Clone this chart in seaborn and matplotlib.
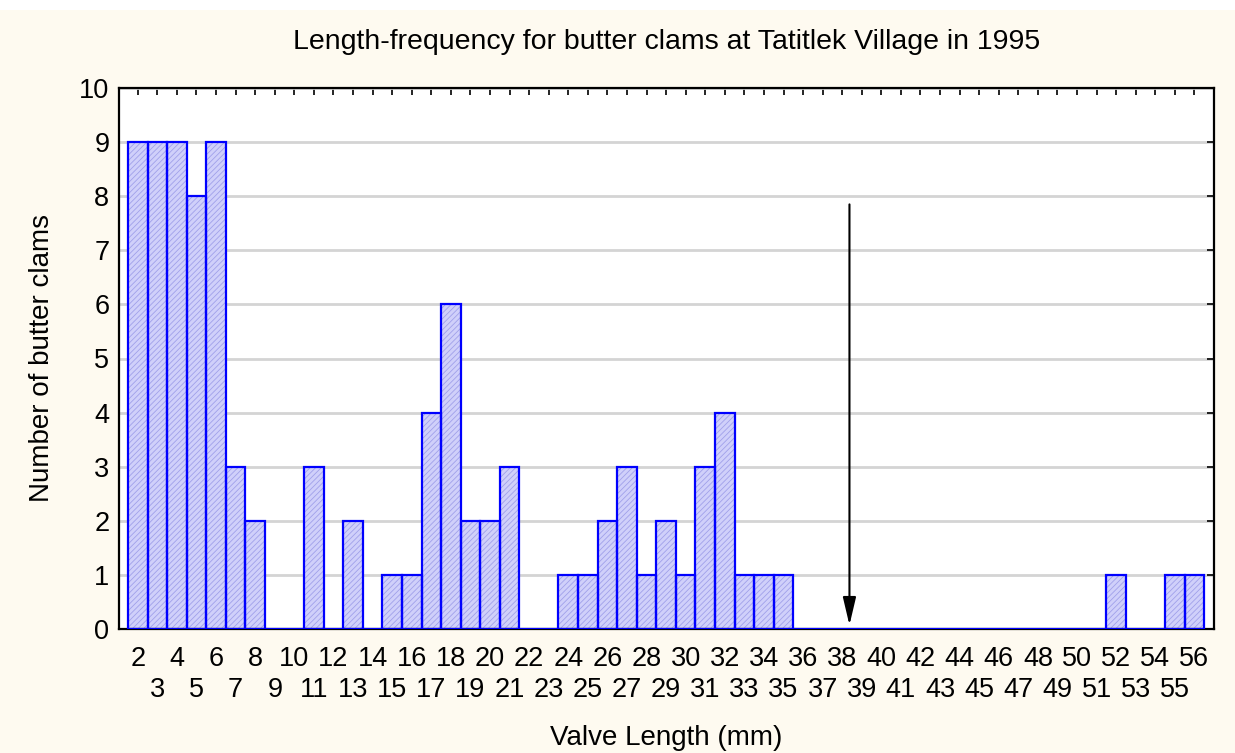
import numpy as np
import pandas as pd
import seaborn as sns
import matplotlib.pyplot as plt
from matplotlib.patches import Rectangle

# Dados
comprimentos = list(range(2, 57))
contagens = [9, 9, 9, 8, 9, 3, 2, 0, 0, 3,
             0, 2, 0, 1, 1, 4, 6, 2, 2, 3,
             0, 0, 1, 1, 2, 3, 1, 2, 1, 3,
             4, 1, 1, 1, 0, 0, 0, 0, 0, 0,
             0, 0, 0, 0, 0, 0, 0, 0, 0, 0,
             1, 0, 0, 1, 1]
seta_x = 38.37
seta_topo = 7.9

df = pd.DataFrame({"comprimento": comprimentos, "contagem": contagens})

sns.set_style("white")
plt.rcParams['font.family'] = ['Liberation Sans', 'DejaVu Sans']
plt.rcParams['hatch.linewidth'] = 0.6
plt.rcParams['text.color'] = 'black'
plt.rcParams['axes.labelcolor'] = 'black'

fig = plt.figure(figsize=(12.35, 7.53), dpi=100, facecolor='#fefaf0')
fig.patches.append(Rectangle((0, 1 - 10 / 753), 1, 10 / 753, transform=fig.transFigure,
                             facecolor='white', edgecolor='none', zorder=0))
ax = fig.add_axes([119 / 1235, 1 - 629 / 753, (1214 - 119) / 1235, (629 - 88) / 753])
ax.set_facecolor('white')

# preenchimento hachurado
sns.barplot(data=df, x="comprimento", y="contagem", native_scale=True, width=1,
            color='#d0d0fa', saturation=1, edgecolor='#a0a0ea', linewidth=0,
            errorbar=None, ax=ax, zorder=2)
for p in ax.patches:
    p.set_hatch('//////')
# contorno azul
sns.barplot(data=df, x="comprimento", y="contagem", native_scale=True, width=1,
            color='#0000ff', saturation=1, fill=False, linewidth=1.6,
            errorbar=None, ax=ax, zorder=3)

ax.set_xlim(1.04, 57.0)
ax.set_ylim(0, 10)
ax.set_yticks(range(0, 11))

# pares na primeira linha, ímpares na segunda
pares = [c for c in comprimentos if c % 2 == 0]
impares = [c for c in comprimentos if c % 2 == 1]
ax.set_xticks(pares)
ax.set_xticklabels([str(c) for c in pares])
ax.set_xticks(impares, minor=True)
ax.set_xticklabels([str(c) for c in impares], minor=True)

ax.tick_params(axis='both', which='both', direction='in', length=5, width=1.2,
               labelsize=19.5, top=True, right=True, colors='black')
ax.tick_params(axis='x', which='major', pad=12)
ax.tick_params(axis='x', which='minor', pad=34.5)
ax.tick_params(axis='y', pad=7)
ax.grid(axis='y', which='major', color='#d4d4d4', linewidth=2, zorder=1)
ax.set_axisbelow(True)
for s in ax.spines.values():
    s.set_color('black')
    s.set_linewidth(1.6)

ax.annotate("", xy=(seta_x, 0.02), xytext=(seta_x, seta_topo),
            arrowprops=dict(arrowstyle='-|>,head_length=1.7,head_width=0.4',
                            color='black', lw=1.5), zorder=5)

ax.set_xlabel("Valve Length (mm)", fontsize=20, labelpad=16, color='black')
ax.set_ylabel("Number of butter clams", fontsize=20, labelpad=17, color='black')
ax.set_title("Length-frequency for butter clams at Tatitlek Village in 1995",
             fontsize=20.5, pad=28, color='black')

fig.savefig("out.png", dpi=100, facecolor=fig.get_facecolor())
